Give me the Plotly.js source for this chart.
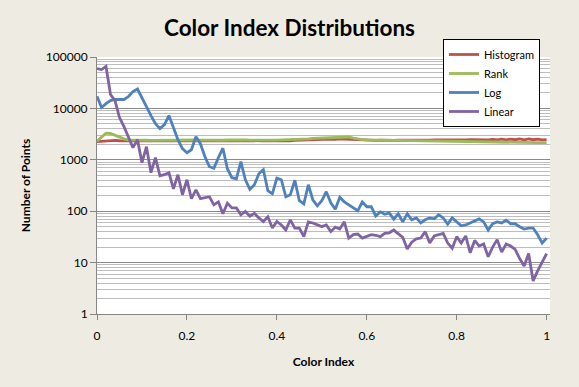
<!DOCTYPE html>
<html>
<head>
<meta charset="utf-8">
<script src="https://cdn.plot.ly/plotly-3.0.1.min.js"></script>
<style>
  html, body { margin: 0; padding: 0; background: #EEEBE2; }
  #chart { width: 579px; height: 387px; outline: 1px solid #8a8a8a; outline-offset: -3px; }
</style>
</head>
<body>
<div id="chart"></div>
<script>
// Color Index values (x axis)
const colorIndex = [
  0.00,0.01,0.02,0.03,0.04,0.05,0.06,0.07,0.08,0.09,
  0.10,0.11,0.12,0.13,0.14,0.15,0.16,0.17,0.18,0.19,
  0.20,0.21,0.22,0.23,0.24,0.25,0.26,0.27,0.28,0.29,
  0.30,0.31,0.32,0.33,0.34,0.35,0.36,0.37,0.38,0.39,
  0.40,0.41,0.42,0.43,0.44,0.45,0.46,0.47,0.48,0.49,
  0.50,0.51,0.52,0.53,0.54,0.55,0.56,0.57,0.58,0.59,
  0.60,0.61,0.62,0.63,0.64,0.65,0.66,0.67,0.68,0.69,
  0.70,0.71,0.72,0.73,0.74,0.75,0.76,0.77,0.78,0.79,
  0.80,0.81,0.82,0.83,0.84,0.85,0.86,0.87,0.88,0.89,
  0.90,0.91,0.92,0.93,0.94,0.95,0.96,0.97,0.98,0.99,
  1.00
];

const histogram = [
  2250,2300,2350,2400,2380,2350,2330,2340,2350,2330,
  2340,2320,2350,2330,2340,2360,2330,2350,2340,2320,
  2350,2330,2340,2360,2330,2350,2340,2330,2360,2340,
  2350,2330,2340,2360,2340,2330,2350,2340,2360,2330,
  2350,2340,2360,2330,2380,2400,2450,2500,2480,2520,
  2500,2550,2530,2500,2560,2520,2500,2450,2420,2400,
  2380,2400,2390,2410,2380,2400,2390,2420,2400,2410,
  2400,2420,2400,2430,2420,2450,2440,2460,2450,2470,
  2450,2460,2440,2470,2450,2460,2480,2450,2500,2440,
  2520,2450,2530,2460,2540,2450,2550,2460,2530,2450,
  2480
];

const rank = [
  2300,2800,3300,3250,3000,2750,2550,2450,2420,2400,
  2410,2400,2390,2400,2410,2400,2420,2410,2400,2390,
  2400,2420,2430,2410,2400,2420,2440,2420,2400,2430,
  2450,2420,2410,2430,2420,2410,2420,2440,2450,2430,
  2420,2440,2450,2460,2480,2500,2520,2560,2600,2620,
  2640,2600,2650,2700,2680,2720,2780,2650,2550,2480,
  2450,2440,2430,2420,2410,2400,2390,2380,2370,2360,
  2360,2350,2340,2350,2340,2330,2320,2330,2320,2310,
  2300,2290,2280,2260,2240,2220,2200,2180,2170,2160,
  2150,2150,2160,2150,2140,2150,2150,2140,2150,2150,
  2150
];

const logSeries = [
  17200,10400,12400,14200,14900,14900,14900,17000,21200,23800,
  15500,10800,7240,5060,4040,4830,7240,4230,2470,1650,
  1370,1570,2820,2060,1150,733,686,1100,1680,671,
  448,428,918,409,267,327,536,641,250,218,
  442,409,191,209,400,160,139,327,167,127,
  160,239,146,109,187,152,133,116,102,152,
  122,122,81,97,87,93,70,89,62,89,
  68,74,59,68,74,71,85,74,56,74,
  61,52,54,59,65,71,62,43,57,62,
  59,67,57,57,50,45,47,47,35,24,
  30
];

const linearSeries = [
  59700,57000,65300,18600,14200,6620,4420,2700,1720,2470,
  878,1800,561,1100,490,513,561,273,513,209,
  409,175,261,175,182,191,133,152,89,143,
  116,116,85,99,80,91,74,63,78,47,
  63,54,43,68,47,47,32,62,59,54,
  50,54,40,49,45,62,30,35,36,30,
  32,35,34,32,37,38,43,37,31,18.5,
  25,29,30,40,24,33,35,37,24,19,
  32,24,33,15.5,27,21,23,13,20,28,
  16,23,21,18,12,8.6,15,4.4,6.9,10.3,
  15
];

const seriesNames = ["Histogram", "Rank", "Log", "Linear"];
const seriesColors = ["#C0504D", "#9BBB59", "#4F81BD", "#8064A2"];
const seriesData = [histogram, rank, logSeries, linearSeries];

const yTickVals = [1, 10, 100, 1000, 10000, 100000];
const yTickText = ["1", "10", "100", "1000", "10000", "100000"];

const FONT = "Lato, 'Open Sans', sans-serif";

const traces = seriesNames.map((name, k) => ({
  type: "scatter",
  mode: "lines",
  name: name,
  x: colorIndex,
  y: seriesData[k],
  line: { color: seriesColors[k], width: 2.8 },
  hoverinfo: "skip"
}));

const layout = {
  width: 579,
  height: 387,
  paper_bgcolor: "#EEEBE2",
  plot_bgcolor: "#FFFFFF",
  margin: { l: 97, r: 29, t: 57, b: 73 },
  font: { family: FONT, size: 12, color: "#000" },
  title: {
    text: "<b>Color Index Distributions</b>",
    font: { family: FONT, size: 22.5, color: "#000" },
    x: 0.5, xanchor: "center", xref: "container",
    y: 1 - 28 / 387, yanchor: "middle", yref: "container"
  },
  showlegend: true,
  legend: {
    x: (443 - 97) / 453, xanchor: "left",
    y: (314 - 39) / 257, yanchor: "top",
    bgcolor: "#FFFFFF",
    bordercolor: "#000000",
    borderwidth: 1,
    font: { family: FONT, size: 11, color: "#000" },
    itemwidth: 30,
    tracegroupgap: 0
  },
  xaxis: {
    range: [0, 1.0075],
    tick0: 0, dtick: 0.2,
    showgrid: false,
    zeroline: false,
    showline: true, linecolor: "#868686", linewidth: 1,
    ticks: "outside", ticklen: 5, tickcolor: "#868686",
    ticklabelstandoff: 6,
    tickfont: { family: FONT, size: 12, color: "#000" },
    title: { text: "<b>Color Index</b>", font: { family: FONT, size: 12, color: "#000" }, standoff: 15 }
  },
  yaxis: {
    type: "log",
    range: [0, 5],
    tickvals: yTickVals,
    ticktext: yTickText,
    showgrid: true, gridcolor: "#8a8a8a", gridwidth: 1,
    minor: { dtick: "D1", showgrid: true, gridcolor: "#bdbdbd", gridwidth: 1, ticks: "" },
    zeroline: false,
    showline: true, linecolor: "#868686", linewidth: 1,
    ticks: "outside", ticklen: 6, tickcolor: "#868686",
    tickfont: { family: FONT, size: 12, color: "#000" },
    title: { text: "<b>Number of Points</b>", font: { family: FONT, size: 12, color: "#000" }, standoff: 12 }
  }
};

Plotly.newPlot("chart", traces, layout, { displayModeBar: false, staticPlot: true });
</script>
</body>
</html>
